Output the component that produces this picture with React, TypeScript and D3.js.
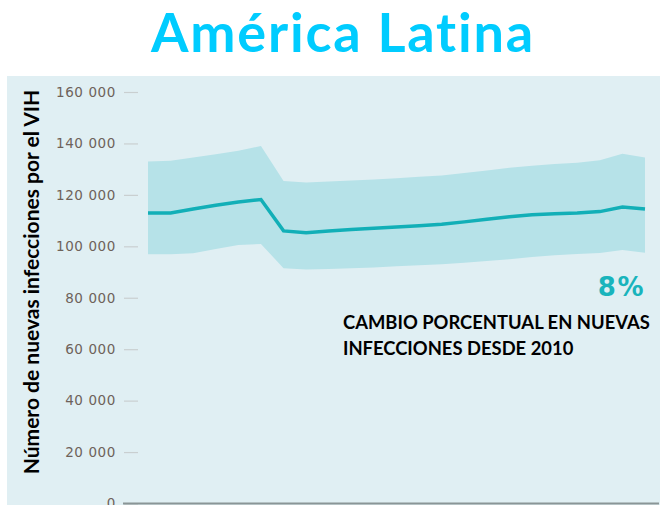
import React, { useEffect, useRef } from 'react'
import { area, axisLeft, format, line, scaleLinear, select } from 'd3'

const years = [
  2000, 2001, 2002, 2003, 2004, 2005, 2006, 2007, 2008, 2009, 2010, 2011,
  2012, 2013, 2014, 2015, 2016, 2017, 2018, 2019, 2020, 2021, 2022,
]
const estimate = [
  113000, 113000, 114500, 116000, 117200, 118200, 106000, 105300, 106000,
  106500, 107000, 107500, 108000, 108600, 109500, 110500, 111500, 112300,
  112700, 113000, 113500, 115300, 114500,
]
const upper = [
  133000, 133300, 134500, 135800, 137200, 139000, 125400, 124800, 125200,
  125600, 126000, 126500, 127000, 127500, 128500, 129500, 130500, 131300,
  132000, 132500, 133500, 136000, 134500,
]
const lower = [
  96900, 96900, 97300, 99000, 100500, 100900, 91500, 91000, 91200, 91500,
  91800, 92200, 92600, 93000, 93600, 94300, 95000, 95800, 96500, 97000,
  97400, 98600, 97500,
]
const yTicks = [0, 20000, 40000, 60000, 80000, 100000, 120000, 140000, 160000]

const App = () => {
  const ref = useRef<SVGSVGElement>(null)

  useEffect(() => {
    main()
  }, [])

  const main = () => {
    const svg = select(ref.current)
    svg.selectAll('*').remove()

    const xScale = scaleLinear().domain([2000, 2022]).range([148, 645])
    const yScale = scaleLinear().domain([0, 160000]).range([503.5, 92])

    // panel
    svg.append('rect')
      .attr('x', 7).attr('y', 76).attr('width', 653).attr('height', 429)
      .attr('fill', '#e0eff3')

    // title
    svg.append('text')
      .attr('x', 343).attr('y', 52)
      .attr('text-anchor', 'middle')
      .attr('font-family', 'Lato, sans-serif')
      .attr('font-weight', 'bold')
      .attr('font-size', 54)
      .attr('letter-spacing', 1.8)
      .attr('fill', '#00ccff')
      .text('América Latina')

    // y axis
    const fmt = (d) => format(',')(d).replace(/,/g, ' ')
    const gy = svg.append('g')
      .attr('transform', 'translate(138,0)')
      .call(axisLeft(yScale).tickValues(yTicks).tickSize(14).tickPadding(8).tickFormat(fmt))
    gy.select('.domain').remove()
    gy.selectAll('.tick line').attr('stroke', '#c9cfd0').attr('stroke-width', 1.2)
    gy.selectAll('.tick text')
      .attr('font-family', '"DejaVu Sans", sans-serif')
      .attr('font-size', 13.5)
      .attr('letter-spacing', 0.6)
      .attr('fill', '#6e625a')

    // baseline
    svg.append('line')
      .attr('x1', 123).attr('x2', 659)
      .attr('y1', yScale(0)).attr('y2', yScale(0))
      .attr('stroke', '#8a9596').attr('stroke-width', 2)

    // uncertainty band
    const band = area()
      .x((d, i) => xScale(years[i]))
      .y0((d, i) => yScale(lower[i]))
      .y1((d, i) => yScale(upper[i]))
    svg.append('path')
      .datum(years)
      .attr('d', band)
      .attr('fill', '#b6e2e8')

    const ln = line()
      .x((d, i) => xScale(years[i]))
      .y((d) => yScale(d))
    svg.append('path')
      .datum(estimate)
      .attr('d', ln)
      .attr('fill', 'none')
      .attr('stroke', '#12afb7')
      .attr('stroke-width', 3.5)

    // y axis title
    svg.append('text')
      .attr('transform', 'translate(39,282) rotate(-90)')
      .attr('text-anchor', 'middle')
      .attr('font-family', 'Lato, sans-serif')
      .attr('font-weight', 'bold')
      .attr('font-size', 21)
      .attr('fill', '#000')
      .text('Número de nuevas infecciones por el VIH')

    // annotation
    svg.append('text')
      .attr('x', 645).attr('y', 296)
      .attr('text-anchor', 'end')
      .attr('font-family', '"DejaVu Sans", sans-serif')
      .attr('font-weight', 'bold')
      .attr('font-size', 26)
      .attr('letter-spacing', 1.5)
      .attr('fill', '#19b4bc')
      .text('8%')

    const note = svg.append('text')
      .attr('font-family', 'Lato, sans-serif')
      .attr('font-weight', 'bold')
      .attr('font-size', 18.4)
      .attr('fill', '#000')
    note.append('tspan').attr('x', 343).attr('y', 329).text('CAMBIO PORCENTUAL EN NUEVAS')
    note.append('tspan').attr('x', 343).attr('y', 355).text('INFECCIONES DESDE 2010')
  }

  return (
    <svg
      ref={ref}
      width={666}
      height={505}
      style={{ position: 'absolute', left: 0, top: 0, background: '#fff' }}
    ></svg>
  )
}

export default App
